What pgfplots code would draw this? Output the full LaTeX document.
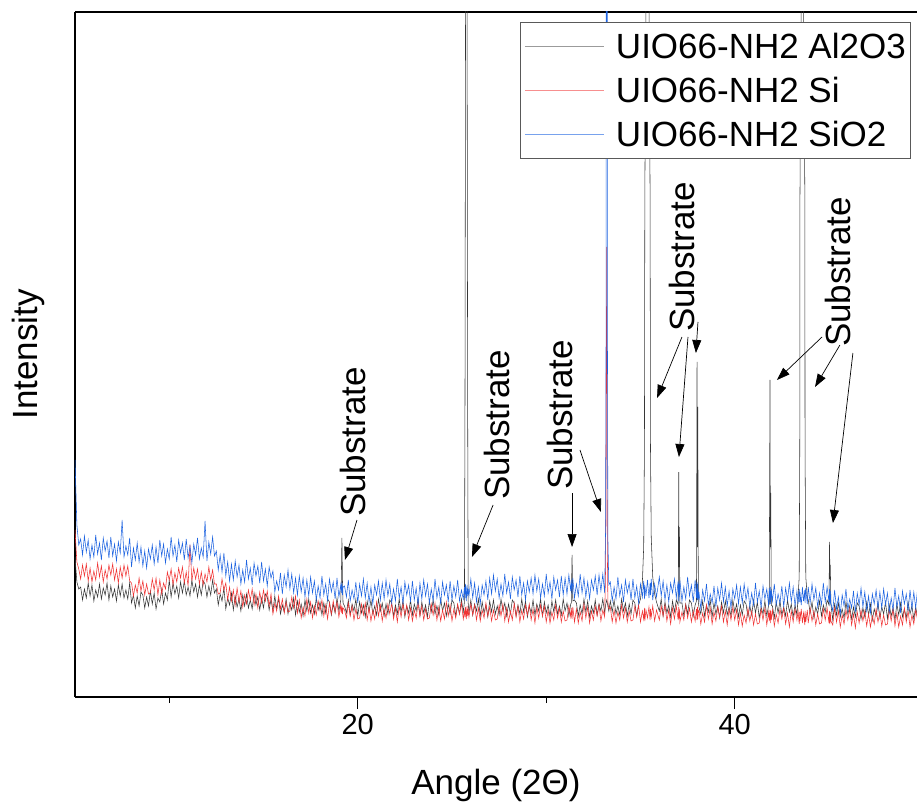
\documentclass[border=0pt]{standalone}
\usepackage{fontspec}
\setmainfont{Liberation Sans}
\usepackage{pgfplots}
\usepackage{pgfplotstable}
\pgfplotsset{compat=1.18}
\usetikzlibrary{arrows.meta}
\definecolor{cK}{RGB}{55,55,55}
\definecolor{cR}{RGB}{240,52,52}
\definecolor{cB}{RGB}{30,100,225}
\pgfplotstableread{
x k r b
5.0 140 167 237
5.1 115 135 172
5.2 108 128 152
5.3 110 118 158
5.4 97 132 142
5.5 108 121 161
5.6 99 133 145
5.7 114 116 157
5.8 101 129 138
5.9 112 115 152
6.0 96 126 140
6.1 107 117 162
6.2 100 134 143
6.3 113 120 154
6.4 98 131 137
6.5 109 115 159
6.6 102 127 146
6.7 114 118 156
6.8 97 132 139
6.9 111 122 160
7.0 100 133 141
7.1 108 117 153
7.2 96 128 136
7.3 112 114 155
7.4 101 130 144
7.5 113 119 177
7.6 99 132 140
7.7 107 121 151
7.8 98 131 142
7.9 114 116 159
8.0 94 114 130
8.1 102 101 149
8.2 89 112 137
8.3 101 104 154
8.4 91 119 135
8.5 105 106 150
8.6 102 116 131
8.7 89 102 146
8.8 100 113 129
8.9 91 103 148
9.0 106 104 138
9.1 93 118 152
9.2 104 107 133
9.3 88 119 150
9.4 99 102 134
9.5 95 117 157
9.6 108 103 141
9.7 93 114 153
9.8 104 108 134
9.9 97 125 148
10.0 117 117 138
10.1 100 128 160
10.2 114 112 141
10.3 103 124 152
10.4 111 115 135
10.5 99 129 157
10.6 115 119 144
10.7 104 130 154
10.8 116 114 137
10.9 102 125 158
11.0 110 111 139
11.1 101 152 151
11.2 117 116 134
11.3 105 129 153
11.4 113 118 142
11.5 100 128 159
11.6 112 113 138
11.7 102 125 149
11.8 116 112 140
11.9 113 123 176
12.0 100 115 136
12.1 111 130 155
12.2 102 117 143
12.3 117 127 160
12.4 104 113 141
12.5 108 113 146
12.6 92 103 127
12.7 103 104 142
12.8 96 118 125
12.9 109 107 144
13.0 88 114 121
13.1 99 97 135
13.2 92 110 116
13.3 104 96 133
13.4 87 107 117
13.5 101 92 136
13.6 90 109 120
13.7 98 95 132
13.8 86 106 113
13.9 102 90 127
14.0 91 102 115
14.1 103 93 137
14.2 89 107 118
14.3 97 97 129
14.4 88 108 112
14.5 104 92 134
14.6 92 103 121
14.7 100 89 131
14.8 87 105 114
14.9 99 94 135
15.0 89 107 116
15.1 103 96 128
15.2 100 106 111
15.3 87 91 130
15.4 98 103 119
15.5 86 83 126
15.6 101 94 105
15.7 88 86 116
15.8 99 101 107
15.9 83 88 124
16.0 92 98 103
16.1 85 84 122
16.2 98 95 110
16.3 83 85 127
16.4 94 86 108
16.5 87 100 123
16.6 99 89 104
16.7 82 101 119
16.8 96 84 102
16.9 85 97 121
17.0 93 79 105
17.1 81 90 119
17.2 97 81 100
17.3 86 98 117
17.4 98 84 101
17.5 84 95 120
17.6 92 79 104
17.7 83 91 116
17.8 99 82 97
17.9 87 96 111
18.0 95 86 99
18.1 82 97 121
18.2 94 81 102
18.3 84 92 113
18.4 98 78 96
18.5 95 94 118
18.6 82 83 105
18.7 93 96 115
18.8 84 85 98
18.9 99 95 119
19.0 86 80 100
19.1 97 92 112
19.13 118 84 104
19.16 159 91 115
19.19 116 83 102
19.22 94 89 110
19.3 91 87 111
19.4 84 79 100
19.5 97 94 117
19.6 82 81 96
19.7 93 91 107
19.8 86 77 98
19.9 98 88 115
20.0 81 78 94
20.1 95 79 113
20.2 84 93 101
20.3 92 82 118
20.4 80 94 99
20.5 96 77 114
20.6 85 90 95
20.7 97 76 110
20.8 83 87 93
20.9 91 78 112
21.0 82 95 102
21.1 98 81 116
21.2 86 92 97
21.3 94 76 114
21.4 81 88 98
21.5 93 79 117
21.6 83 93 101
21.7 97 83 113
21.8 94 94 94
21.9 81 78 108
22.0 92 89 96
22.1 83 75 118
22.2 98 91 99
22.3 85 80 110
22.4 96 93 93
22.5 80 82 115
22.6 91 92 102
22.7 84 77 112
22.8 97 89 95
22.9 82 76 116
23.0 93 87 97
23.1 86 79 109
23.2 98 94 92
23.3 81 81 114
23.4 95 91 98
23.5 84 77 117
23.6 92 88 101
23.7 80 78 113
23.8 96 79 94
23.9 85 93 108
24.0 97 82 96
24.1 83 94 118
24.2 91 77 99
24.3 82 90 110
24.4 98 76 93
24.5 86 87 115
24.6 94 78 102
24.7 81 95 112
24.8 93 81 95
24.9 83 92 116
25.0 97 76 97
25.1 94 88 111
25.2 81 79 100
25.3 92 93 117
25.4 83 83 96
25.5 98 94 107
25.6 85 78 98
25.66 95 86 110
25.69 300 80 99
25.72 700 90 113
25.76 3000 78 96
25.80 700 91 112
25.83 300 81 101
25.86 94 87 108
25.9 84 80 101
26.0 97 93 118
26.1 82 82 99
26.2 93 92 114
26.3 86 77 95
26.4 98 89 110
26.5 81 76 93
26.6 95 87 112
26.7 84 79 102
26.8 92 94 116
26.9 80 81 97
27.0 96 90 119
27.1 85 76 103
27.2 97 87 122
27.3 83 77 106
27.4 91 78 118
27.5 82 92 99
27.6 98 81 113
27.7 86 93 101
27.8 94 76 123
27.9 81 89 104
28.0 93 75 115
28.1 83 86 98
28.2 97 77 120
28.3 94 94 107
28.4 81 80 117
28.5 92 91 100
28.6 83 75 121
28.7 98 87 102
28.8 85 78 114
28.9 96 92 97
29.0 80 82 116
29.1 91 93 105
29.2 84 77 119
29.3 97 88 103
29.4 82 74 122
29.5 93 90 106
29.6 86 79 118
29.7 98 92 99
29.8 81 81 113
29.9 95 91 101
30.0 84 75 123
30.1 92 87 104
30.2 80 74 115
30.3 96 85 98
30.4 85 77 120
30.5 97 92 107
30.6 83 79 117
30.7 91 89 100
30.8 82 75 121
30.9 98 86 102
31.0 86 76 119
31.1 94 77 103
31.2 81 91 122
31.3 93 80 106
31.33 94 89 117
31.37 142 78 103
31.41 96 90 119
31.5 97 75 99
31.6 94 88 113
31.7 81 74 101
31.8 92 85 123
31.9 83 76 104
32.0 98 93 119
32.1 85 79 100
32.2 96 90 115
32.3 80 74 98
32.4 91 86 117
32.5 84 77 107
32.6 97 91 121
32.7 82 81 102
32.8 93 92 122
32.9 86 76 106
33.0 98 87 123
33.10 84 80 104
33.15 92 130 170
33.18 95 300 420
33.21 97 450 3000
33.24 94 150 420
33.27 91 95 160
33.32 86 88 112
33.4 96 90 115
33.5 85 75 96
33.6 97 87 110
33.7 83 74 98
33.8 91 85 120
33.9 82 77 101
34.0 98 92 112
34.1 86 79 95
34.2 94 89 117
34.3 81 75 104
34.4 93 86 114
34.5 83 76 97
34.6 97 77 118
34.7 94 91 99
34.8 81 80 111
34.9 92 92 94
35.0 98 75 113
35.1 115 86 100
35.17 150 78 116
35.21 250 89 98
35.23 500 76 112
35.29 700 87 101
35.37 3000 79 117
35.45 700 90 99
35.51 500 77 114
35.53 250 88 102
35.57 160 80 118
35.65 120 91 97
35.75 103 76 113
35.85 95 87 100
36.0 86 77 120
36.1 98 91 101
36.2 81 81 116
36.3 95 92 97
36.4 84 76 112
36.5 92 87 95
36.6 80 73 114
36.7 96 89 104
36.8 85 78 118
36.9 97 91 99
37.00 92 77 116
37.03 225 90 96
37.05 130 79 113
37.065 170 88 100
37.09 94 75 117
37.2 94 85 96
37.3 81 77 110
37.4 93 92 98
37.5 83 79 120
37.6 97 89 101
37.7 94 75 112
37.8 81 86 95
37.9 92 76 117
37.97 96 88 99
38.00 335 77 115
38.025 150 90 97
38.04 290 78 113
38.07 95 86 98
38.1 90 87 105
38.2 83 73 88
38.3 96 84 107
38.4 81 75 96
38.5 92 92 113
38.6 85 78 92
38.7 97 89 103
38.8 80 73 94
38.9 94 85 111
39.0 83 76 90
39.1 91 90 109
39.2 79 80 97
39.3 95 91 114
39.4 84 75 95
39.5 96 86 110
39.6 82 72 91
39.7 90 88 106
39.8 81 77 89
39.9 97 90 108
40.0 85 77 98
40.1 93 87 112
40.2 80 72 93
40.3 92 84 110
40.4 82 71 94
40.5 96 82 113
40.6 93 74 97
40.7 80 89 109
40.8 91 76 90
40.9 82 86 104
41.0 97 72 92
41.1 84 83 114
41.2 95 73 95
41.3 79 74 106
41.4 90 88 89
41.5 83 77 111
41.6 96 89 98
41.7 81 72 108
41.8 92 85 91
41.83 93 76 109
41.87 317 87 95
41.89 150 74 110
41.91 204 86 93
41.94 92 77 107
42.0 91 87 96
42.1 79 71 113
42.2 95 83 92
42.3 84 74 103
42.4 96 88 94
42.5 82 78 111
42.6 90 89 90
42.7 81 73 109
42.8 97 84 97
42.9 85 70 114
43.0 93 86 95
43.1 80 75 110
43.2 92 88 91
43.3 82 77 106
43.36 100 86 93
43.42 120 73 108
43.45 250 85 95
43.46 500 76 105
43.53 700 88 92
43.59 3000 74 110
43.65 700 84 96
43.72 500 72 107
43.73 250 86 94
43.77 120 75 109
43.85 100 87 93
43.9 97 74 110
44.0 84 89 94
44.1 95 76 113
44.2 79 86 97
44.3 90 72 109
44.4 83 83 90
44.5 96 73 104
44.6 81 74 92
44.7 92 88 114
44.8 85 77 95
44.9 97 89 110
45.00 92 74 95
45.03 155 86 108
45.05 118 73 92
45.07 132 85 106
45.10 93 76 94
45.2 77 72 86
45.3 93 89 107
45.4 82 75 88
45.5 94 86 100
45.6 80 70 83
45.7 88 82 102
45.8 79 73 91
45.9 95 87 108
46.0 83 77 87
46.1 91 88 98
46.2 78 72 89
46.3 90 83 106
46.4 80 69 85
46.5 94 85 104
46.6 91 74 92
46.7 78 87 109
46.8 89 76 90
46.9 80 86 105
47.0 95 71 86
47.1 82 83 101
47.2 93 70 84
47.3 77 81 103
47.4 88 73 93
47.5 81 88 107
47.6 94 75 88
47.7 79 85 105
47.8 90 71 89
47.9 83 82 108
48.0 95 72 92
48.1 78 73 104
48.2 92 87 85
48.3 81 76 99
48.4 89 88 87
48.5 77 71 109
48.6 93 84 90
48.7 82 70 101
48.8 94 81 84
48.9 80 72 106
49.0 88 89 93
49.1 79 75 103
49.2 95 86 86
49.3 83 70 107
49.4 91 82 88
49.5 78 73 105
49.6 90 87 89
49.7 80 77 108
}\data
\begin{document}
\begin{tikzpicture}
\begin{axis}[
  scale only axis,
  width=842pt, height=685pt,
  xmin=5, xmax=49.67, ymin=0, ymax=685,
  axis x line*=box, axis y line*=left,
  axis line style={line width=1.6pt, black},
  xtick={20,40}, minor xtick={10,30}, ytick=\empty,
  xtick pos=left,
  tick align=outside,
  major tick length=12pt, minor tick length=6pt,
  every tick/.style={black, line width=1.4pt},
  /pgf/number format/assume math mode=true,
  tick label style={font=\fontsize{29}{34}\selectfont},
  xticklabel style={yshift=-2pt},
  xlabel={Angle (2Θ)}, ylabel={Intensity},
  every axis x label/.style={at={(axis description cs:0.5,-0.1285)}, anchor=center, font=\fontsize{35}{42}\selectfont},
  every axis y label/.style={at={(axis description cs:-0.0558,0.5)}, anchor=center, rotate=90, font=\fontsize{35}{42}\selectfont},
  legend cell align=left,
  legend image code/.code={},
  legend style={name=lgd, at={(rel axis cs:0.9917,0.9854)}, anchor=north east, draw=none, fill=white,
    font=\fontsize{35}{42}\selectfont, inner xsep=2pt, inner ysep=2pt, column sep=0pt, row sep=0pt,
    nodes={inner sep=2pt, text height=32pt, text depth=8pt}},
]
\addplot[draw=cK, line width=0.55pt] table[x=x, y=k] {\data};
\addlegendentry{\hspace*{91pt}UIO66-NH2 Al2O3}
\addplot[draw=cR, line width=0.55pt] table[x=x, y=r] {\data};
\addlegendentry{\hspace*{91pt}UIO66-NH2 Si}
\addplot[draw=cB, line width=0.55pt] table[x=x, y=b] {\data};
\addlegendentry{\hspace*{91pt}UIO66-NH2 SiO2}

\tikzset{sub/.style={rotate=90, font=\fontsize{35}{42}\selectfont, inner sep=0pt},
  arr/.style={-{Triangle[length=13pt,width=9pt]}, line width=0.7pt, black}}
\node[sub] at (axis cs:19.75,255) {Substrate};
\draw[arr] (axis cs:19.96,177) -- (axis cs:19.32,137);
\node[sub] at (axis cs:27.39,272) {Substrate};
\draw[arr] (axis cs:27.18,192) -- (axis cs:26.06,140);
\node[sub] at (axis cs:30.73,282) {Substrate};
\draw[arr] (axis cs:31.37,204) -- (axis cs:31.37,150);
\draw[arr] (axis cs:31.79,247) -- (axis cs:32.90,185);
\node[sub] at (axis cs:37.20,440) {Substrate};
\draw[arr] (axis cs:37.20,360) -- (axis cs:35.88,299);
\draw[arr] (axis cs:37.52,360) -- (axis cs:37.04,240);
\draw[arr] (axis cs:38.05,375) -- (axis cs:37.94,344);
\node[sub] at (axis cs:45.48,425) {Substrate};
\draw[arr] (axis cs:44.63,360) -- (axis cs:42.24,317);
\draw[arr] (axis cs:45.58,352) -- (axis cs:44.26,310);
\draw[arr] (axis cs:46.27,344) -- (axis cs:45.21,174);
\end{axis}
\draw[black!65, line width=0.6pt] (lgd.south west) rectangle (lgd.north east);
\draw[cK!50, line width=0.8pt] ([xshift=4pt,yshift=-24pt]lgd.north west) -- ++(79pt,0pt);
\draw[cR!55, line width=0.8pt] ([xshift=4pt,yshift=-68pt]lgd.north west) -- ++(79pt,0pt);
\draw[cB!60, line width=0.8pt] ([xshift=4pt,yshift=-112pt]lgd.north west) -- ++(79pt,0pt);
\pgfresetboundingbox
\useasboundingbox (-75pt,-109pt) rectangle (842pt,697pt);
\end{tikzpicture}
\end{document}
